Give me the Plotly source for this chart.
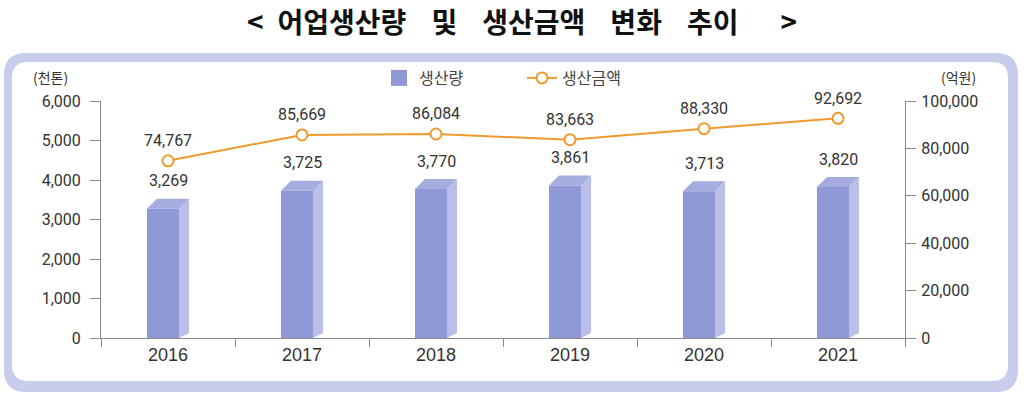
import plotly.graph_objects as go

# ---------------- data ----------------
years = ["2016", "2017", "2018", "2019", "2020", "2021"]
production = [3269, 3725, 3770, 3861, 3713, 3820]        # 생산량 (천톤)
amount = [74767, 85669, 86084, 83663, 88330, 92692]       # 생산금액 (억원)
left_ticks = [0, 1000, 2000, 3000, 4000, 5000, 6000]
right_ticks = [0, 20000, 40000, 60000, 80000, 100000]

# ---------------- layout geometry (pixels) ----------------
W, H = 1024, 399
ML, MR, MT, MB = 101, 119, 101, 61
PW, PH = W - ML - MR, H - MT - MB

def px2paper(px, py):
    return (px - ML) / PW, (H - MB - py) / PH

FRONT = "#8e99d5"
SIDE = "#b9bfe9"
TOP = "#a4ace0"
ORANGE = "#ef9a2e"
TXT = "#333333"
AXC = "#8a8a8a"

fig = go.Figure()

# front faces of the bars
bar_off = -0.157
bar_w = 0.239
fig.add_trace(go.Bar(
    x=years, y=production, name="생산량", showlegend=False,
    marker=dict(color=FRONT, line=dict(width=0)),
    width=bar_w, offset=bar_off, yaxis="y",
))
# legend entry for the bars (larger square symbol like the reference cube)
fig.add_trace(go.Scatter(
    x=[None], y=[None], name="생산량", mode="markers",
    marker=dict(symbol="square", size=19, color=FRONT),
))

# line
fig.add_trace(go.Scatter(
    x=years, y=amount, name="생산금액", yaxis="y2",
    mode="lines+markers",
    line=dict(color=ORANGE, width=2),
    marker=dict(size=11, color="white", line=dict(color=ORANGE, width=2)),
))

shapes = []
# 3D side and top faces derived from the data values
depth_x = 0.075
depth_y = 10 / PH * 6000          # 10 px of depth in left-axis units
bottom_rise = 5 / PH * 6000
for i, v in enumerate(production):
    xl = i + bar_off
    xf = xl + bar_w
    xb = xf + depth_x
    shapes.append(dict(
        type="path", xref="x", yref="y", layer="above",
        path=f"M{xf},0 L{xb},{bottom_rise} L{xb},{v + depth_y} L{xf},{v} Z",
        fillcolor=SIDE, line=dict(width=0)))
    shapes.append(dict(
        type="path", xref="x", yref="y", layer="above",
        path=f"M{xl},{v} L{xf},{v} L{xb},{v + depth_y} L{xl + depth_x},{v + depth_y} Z",
        fillcolor=TOP, line=dict(width=0)))

# rounded panel frame
def rrect(x0, y0, x1, y1, r):
    ax0, ay0 = px2paper(x0, y0)
    ax1, ay1 = px2paper(x1, y1)
    rx, ry = r / PW, r / PH
    return (f"M{ax0 + rx},{ay0} L{ax1 - rx},{ay0} Q{ax1},{ay0} {ax1},{ay0 - ry} "
            f"L{ax1},{ay1 + ry} Q{ax1},{ay1} {ax1 - rx},{ay1} "
            f"L{ax0 + rx},{ay1} Q{ax0},{ay1} {ax0},{ay1 + ry} "
            f"L{ax0},{ay0 - ry} Q{ax0},{ay0} {ax0 + rx},{ay0} Z")

shapes.insert(0, dict(type="path", xref="paper", yref="paper", layer="below",
                      path=rrect(12, 62, 1008, 381, 16), fillcolor="white",
                      line=dict(width=0)))
shapes.insert(0, dict(type="path", xref="paper", yref="paper", layer="below",
                      path=rrect(4, 53, 1018, 392, 22), fillcolor="#c9cdec",
                      line=dict(width=0)))

annotations = []
num_font = dict(family="Roboto, 'Noto Sans', sans-serif", size=16, color=TXT)
for i, v in enumerate(production):
    annotations.append(dict(x=i, y=v, xref="x", yref="y", text=f"{v:,}",
                            showarrow=False, xanchor="center", yanchor="middle", yshift=28,
                            font=num_font))
for i, v in enumerate(amount):
    annotations.append(dict(x=i, y=v, xref="x", yref="y2", text=f"{v:,}",
                            showarrow=False, xanchor="center", yanchor="middle", yshift=20,
                            font=num_font))

# axis unit titles
kfont = dict(family="'Noto Sans CJK KR', sans-serif", size=14, color=TXT)
ux, uy = px2paper(50, 77)
annotations.append(dict(x=ux, y=uy, xref="paper", yref="paper", text="(천톤)",
                        showarrow=False, xanchor="center", yanchor="middle", font=kfont))
ux, uy = px2paper(958, 77)
annotations.append(dict(x=ux, y=uy, xref="paper", yref="paper", text="(억원)",
                        showarrow=False, xanchor="center", yanchor="middle", font=kfont))

# title
gap = "\u2002\u2004\u200a"
tx, ty = px2paper(522, 21)
annotations.append(dict(
    x=tx, y=ty, xref="paper", yref="paper", xanchor="center", yanchor="middle",
    text="<b>&lt;\u2002어업생산량" + gap + "및" + gap + "생산금액" + gap + "변화" + gap
         + "추이\u3000\u2002&gt;</b>",
    showarrow=False, font=dict(family="'Noto Sans CJK KR', sans-serif", size=28, color="#111111")))

lx, ly = px2paper(379, 78)

fig.update_layout(
    width=W, height=H,
    margin=dict(l=ML, r=MR, t=MT, b=MB),
    paper_bgcolor="white", plot_bgcolor="rgba(0,0,0,0)",
    showlegend=True,
    legend=dict(orientation="h", x=lx, y=ly, xanchor="left", yanchor="middle",
                bgcolor="rgba(0,0,0,0)", entrywidth=98, entrywidthmode="pixels",
                font=dict(family="'Noto Sans CJK KR', sans-serif", size=16, color="#444")),
    xaxis=dict(type="category", range=[-0.5, 5.5], showgrid=False, zeroline=False,
               showline=True, linecolor=AXC, linewidth=1,
               ticks="outside", tickson="boundaries", ticklen=8, tickcolor=AXC,
               tickfont=dict(family="'Liberation Sans', Arial, sans-serif", size=18, color=TXT)),
    yaxis=dict(range=[0, 6000], tickvals=left_ticks, tickformat=",", showgrid=False,
               zeroline=False, showline=True, linecolor=AXC, ticks="outside", ticklen=10,
               tickcolor=AXC, ticklabelstandoff=6,
               tickfont=dict(family="Roboto, sans-serif", size=16, color=TXT)),
    yaxis2=dict(range=[0, 100000], tickvals=right_ticks, tickformat=",", overlaying="y",
                side="right", showgrid=False, zeroline=False, showline=True, linecolor=AXC,
                ticks="outside", ticklen=10, tickcolor=AXC, ticklabelstandoff=2,
                tickfont=dict(family="Roboto, sans-serif", size=16, color=TXT)),
    shapes=shapes, annotations=annotations,
)

fig.write_html("out.html", config={"displayModeBar": False},
               post_script="document.body.style.margin='0';")
